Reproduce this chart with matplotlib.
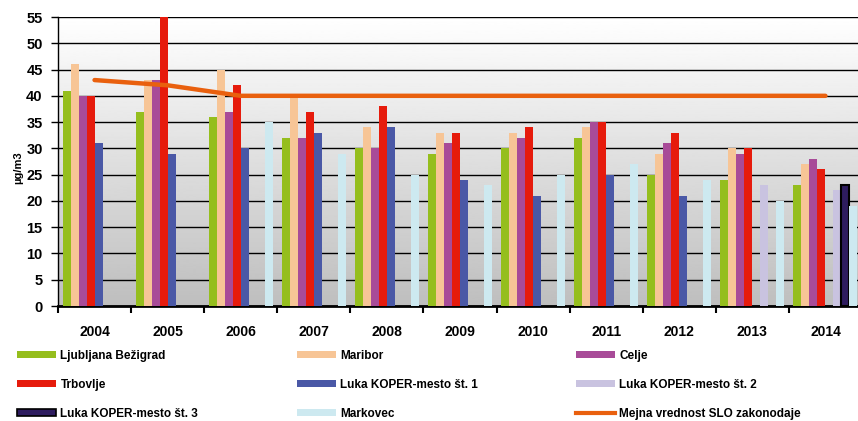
import matplotlib
matplotlib.use('Agg')
import matplotlib.pyplot as plt
from matplotlib.patches import Patch
from matplotlib.lines import Line2D
import numpy as np

# letna povprečja PM10 po merilnih mestih (µg/m3)
years = ['2004', '2005', '2006', '2007', '2008', '2009', '2010', '2011', '2012', '2013', '2014']

ljubljana = [41, 37, 36, 32, 30, 29, 30, 32, 25, 24, 23]
maribor = [46, 43, 45, 40, 34, 33, 33, 34, 29, 30, 27]
celje = [40, 43, 37, 32, 30, 31, 32, 35, 31, 29, 28]
trbovlje = [40, 55, 42, 37, 38, 33, 34, 35, 33, 30, 26]
koper1 = [31, 29, 30, 33, 34, 24, 21, 25, 21, None, None]
koper2 = [None, None, None, None, None, None, None, None, None, 23, 22]
koper3 = [None, None, None, None, None, None, None, None, None, None, 23]
markovec = [None, None, 35, 29, 25, 23, 25, 27, 24, 20, 19]
mejna = [43, 42, 40, 40, 40, 40, 40, 40, 40, 40, 40]

names = ['Ljubljana Bežigrad', 'Maribor', 'Celje', 'Trbovlje',
         'Luka KOPER-mesto št. 1', 'Luka KOPER-mesto št. 2',
         'Luka KOPER-mesto št. 3', 'Markovec']
series = [ljubljana, maribor, celje, trbovlje, koper1, koper2, koper3, markovec]
colors = ['#95BE1D', '#F7C596', '#A84B98', '#E61B0C',
          '#4A58A6', '#C9C3E0', '#2E1C5F', '#CDE9F0']
line_color = '#E9600E'

plt.rcParams['font.family'] = ['Liberation Sans', 'DejaVu Sans']
plt.rcParams['font.weight'] = 'bold'

fig = plt.figure(figsize=(8.58, 4.21), dpi=100)
ax = fig.add_axes([58 / 858, 115 / 421, 804 / 858, 289 / 421])

x = np.arange(len(years))
w = 8 / 73.1

# sivi preliv v ozadju (zgoraj belo, spodaj sivo)
grad = np.linspace(1.0, 0.745, 256).reshape(-1, 1)
ax.imshow(grad, cmap='gray', vmin=0, vmax=1, aspect='auto', origin='upper',
          extent=(-0.5, len(years) - 0.5, 0, 55), zorder=0)

for j, (vals, c) in enumerate(zip(series, colors)):
    v = np.array([np.nan if a is None else a for a in vals], dtype=float)
    ec = 'black' if j == 6 else 'none'
    ax.bar(x + (j - 3.5) * w, v, width=w, color=c, edgecolor=ec,
           linewidth=1.5, zorder=3)

ax.plot(x, mejna, color=line_color, lw=3.2, solid_capstyle='round', zorder=4)

ax.set_xlim(-0.5, len(years) - 0.5)
ax.set_ylim(0, 55)
ax.set_yticks(range(0, 56, 5))
ax.yaxis.grid(True, color='black', lw=1)
ax.set_axisbelow(False)
for gl in ax.get_ygridlines():
    gl.set_zorder(1)

ax.set_xticks(np.arange(-0.5, len(years), 1))
ax.set_xticklabels([])
ax.set_xticks(x, minor=True)
ax.set_xticklabels(years, minor=True, fontsize=10, fontweight='bold')
ax.tick_params(axis='x', which='minor', length=0, pad=14)
ax.tick_params(axis='x', which='major', length=5, width=1.5, direction='out')
ax.tick_params(axis='y', length=5, width=1, pad=6, labelsize=10.5)
for lab in ax.get_yticklabels():
    lab.set_fontweight('bold')

for s in ['top', 'right']:
    ax.spines[s].set_visible(False)
ax.spines['left'].set_linewidth(1)
ax.spines['bottom'].set_linewidth(2)

ax.set_ylabel('µg/m3', fontsize=8, fontweight='bold', labelpad=2)
ax.yaxis.set_label_coords(-0.043, 0.48)

# legenda v treh stolpcih
handles = [Patch(facecolor=c, edgecolor='black' if i == 6 else 'none',
                 linewidth=1.2) for i, c in enumerate(colors)]
handles.append(Line2D([0], [0], color=line_color, lw=3))
labels = names + ['Mejna vrednost SLO zakonodaje']
cols = [[0, 3, 6], [1, 4, 7], [2, 5, 8]]
xs = [12 / 858, 292 / 858, 571 / 858]
for cx, idx in zip(xs, cols):
    fig.legend([handles[i] for i in idx], [labels[i] for i in idx],
               loc='upper left', bbox_to_anchor=(cx, 1 - 345 / 421),
               frameon=False, handlelength=3.3,
               handleheight=0.55, handletextpad=0.4, labelspacing=1.45,
               borderaxespad=0, prop={'weight': 'bold', 'size': 8.5})

fig.savefig('out.png', dpi=100)
